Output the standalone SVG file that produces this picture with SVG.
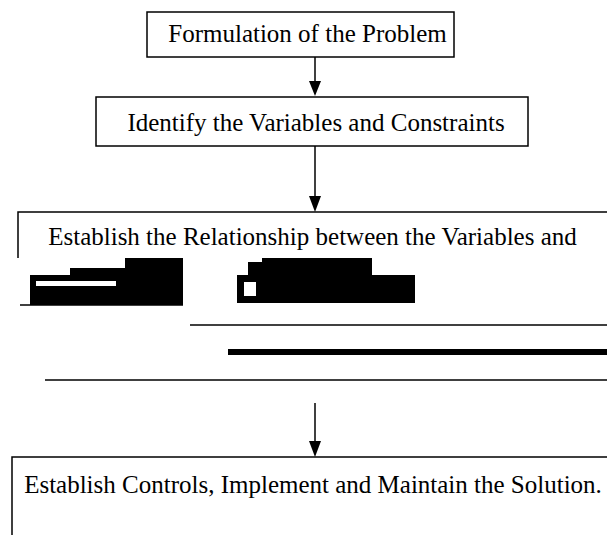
<svg xmlns="http://www.w3.org/2000/svg" width="607" height="535" viewBox="0 0 607 535">
<defs>
<style>
.box{fill:#fff;stroke:#000;stroke-width:1.5}
.t{font-family:'Liberation Serif','DejaVu Serif',serif;font-size:25px;fill:#000;text-anchor:middle}
.c{stroke:#000;stroke-width:1.5;fill:none}
.blk{fill:#000}
</style>
</defs>
<rect width="607" height="535" fill="#fff"/>
<g id="connectors">
<line class="c" x1="315" y1="57" x2="315" y2="81"/>
<path d="M309,81 L321,81 L315,96 Z" class="blk"/>
<line class="c" x1="315" y1="146" x2="315" y2="196"/>
<path d="M309,196 L321,196 L315,212 Z" class="blk"/>
<line class="c" x1="315" y1="403" x2="315" y2="441"/>
<path d="M309,441 L321,441 L315,457 Z" class="blk"/>
</g>
<g id="n1">
<rect class="box" x="147" y="12" width="307" height="45"/>
<text class="t" x="307.5" y="42">Formulation of the Problem</text>
</g>
<g id="n2">
<rect class="box" x="96" y="97" width="432" height="49"/>
<text class="t" x="316" y="131">Identify the Variables and Constraints</text>
</g>
<g id="n3">
<path class="c" d="M18,258 L18,212 L610,212"/>
<text class="t" x="312.5" y="245">Establish the Relationship between the Variables and</text>
<path class="blk" d="M30,305 L30,275 L70,275 L70,268 L125,268 L125,258 L183,258 L183,305 Z"/>
<rect x="36" y="281" width="80" height="5" fill="#fff"/>
<path class="blk" d="M237,305 L237,275 L248,275 L248,262 L262,262 L262,258 L372,258 L372,275 L415,275 L415,303 L237,303 Z"/>
<rect x="244" y="282" width="12" height="14" fill="#fff"/>
<line class="c" x1="190" y1="325" x2="607" y2="325"/>
<rect class="blk" x="228" y="349" width="379" height="6"/>
<line class="c" x1="45" y1="380" x2="607" y2="380"/>
<line class="c" x1="20" y1="305" x2="183" y2="305"/>
</g>
<g id="n4">
<path class="c" d="M12,540 L12,457 L610,457"/>
<text class="t" x="313" y="493">Establish Controls, Implement and Maintain the Solution.</text>
</g>
</svg>
